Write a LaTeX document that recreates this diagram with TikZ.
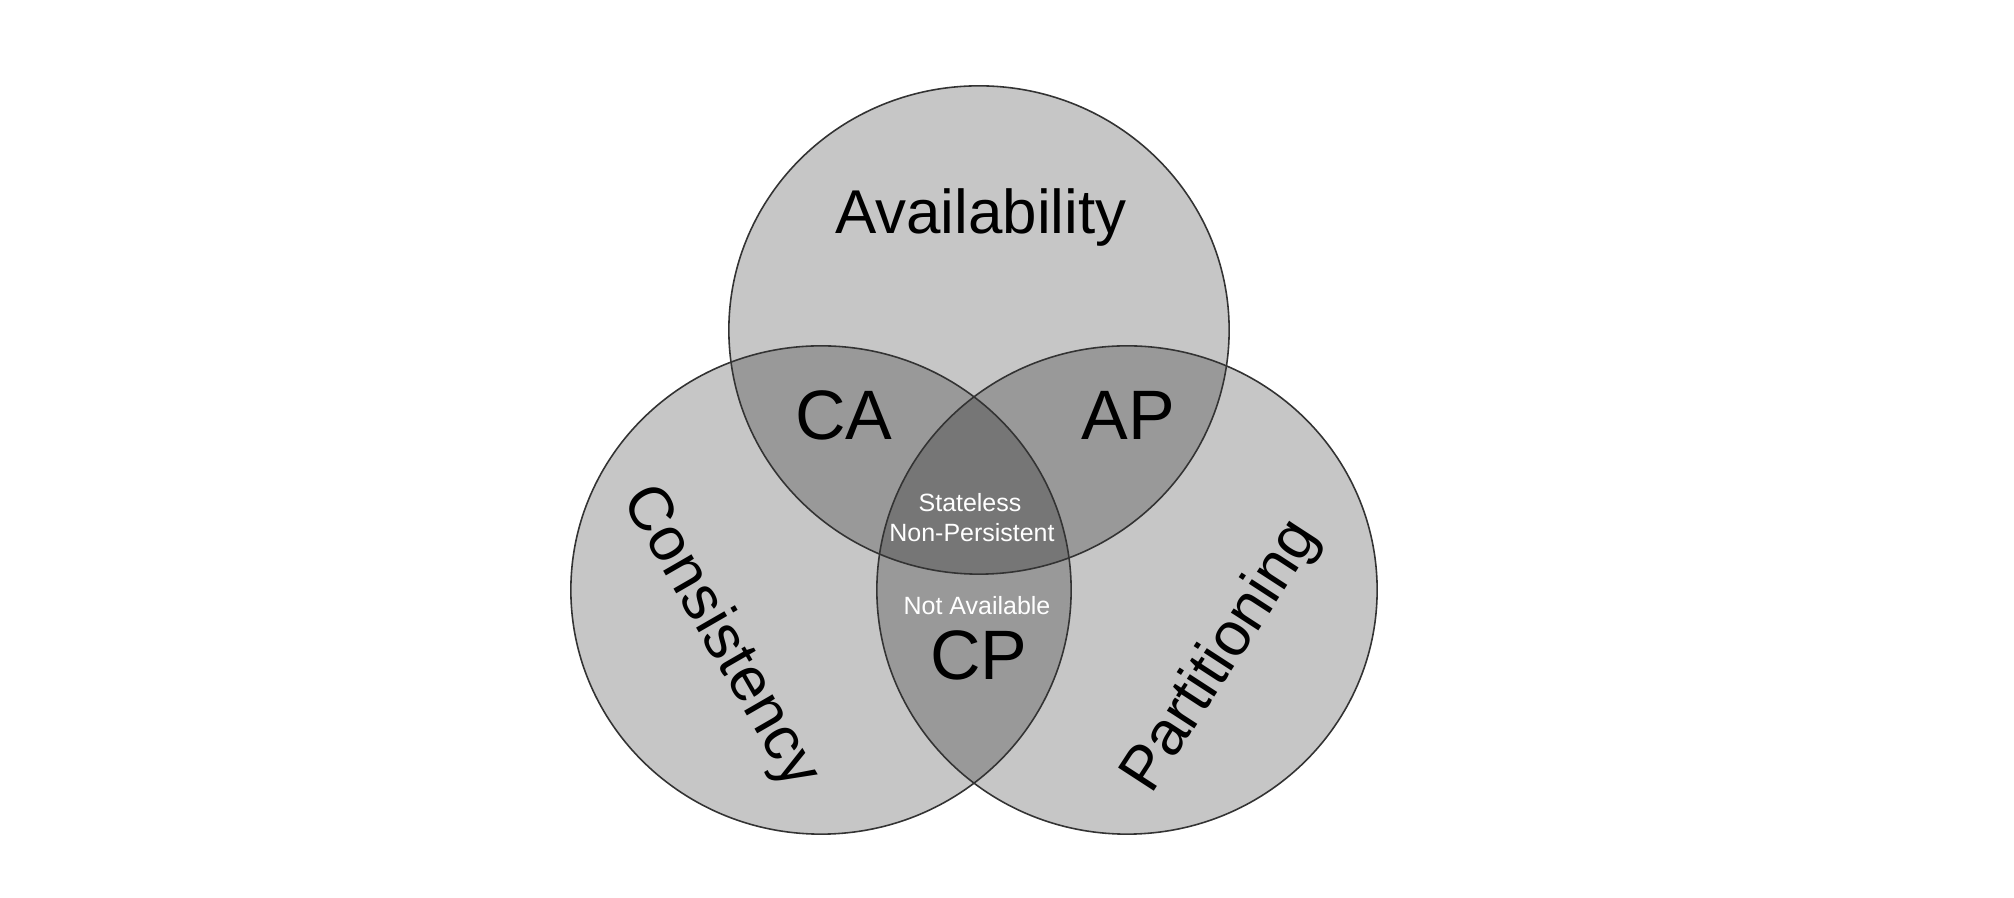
\documentclass[tikz,border=0pt]{standalone}
\usepackage{fontspec}
\setmainfont{Liberation Sans}
\usetikzlibrary{shapes.geometric}
\begin{document}
\begin{tikzpicture}[x=0.01cm,y=-0.01cm,
  setfill/.style={ellipse, minimum width=5cm, minimum height=4.88cm, inner sep=0pt, fill=black, fill opacity=0.224},
  setline/.style={draw=black!80, line width=0.45pt},
  bigname/.style={anchor=base, inner sep=0pt, font=\fontsize{17.6}{20}\selectfont},
  pairname/.style={anchor=base, inner sep=0pt, font=\fontsize{19.9}{22}\selectfont},
  smallnote/.style={anchor=base, inner sep=0pt, text=white, font=\fontsize{7.1}{8.5}\selectfont}]
\useasboundingbox (0,0) rectangle (2014,898);
\fill[white] (0,0) rectangle (2014,898);
% set fills
\node[setfill] (A) at (979,330) {};
\node[setfill] (C) at (821,590) {};
\node[setfill] (P) at (1127,590) {};
% outlines
\draw[setline] (A.center) ellipse [x radius=2.5cm, y radius=2.44cm];
\draw[setline] (C.center) ellipse [x radius=2.5cm, y radius=2.44cm];
\draw[setline] (P.center) ellipse [x radius=2.5cm, y radius=2.44cm];
% labels
\node[bigname] (avail) at (981,234) {Availability};
\node[bigname, anchor=center, rotate=-60] (cons) at (720,637) {Consistency};
\node[bigname, anchor=center, rotate=57] (part) at (1222,657) {Partitioning};
\node[pairname] (ca) at (844,440) {CA};
\node[pairname] (ap) at (1128,440) {AP};
\node[pairname] (cp) at (979,680) {CP};
\node[smallnote] (stateless) at (970,512) {Stateless};
\node[smallnote] (nonpers) at (972,542) {Non-Persistent};
\node[smallnote] (notavail) at (977,615) {Not Available};
\end{tikzpicture}
\end{document}
